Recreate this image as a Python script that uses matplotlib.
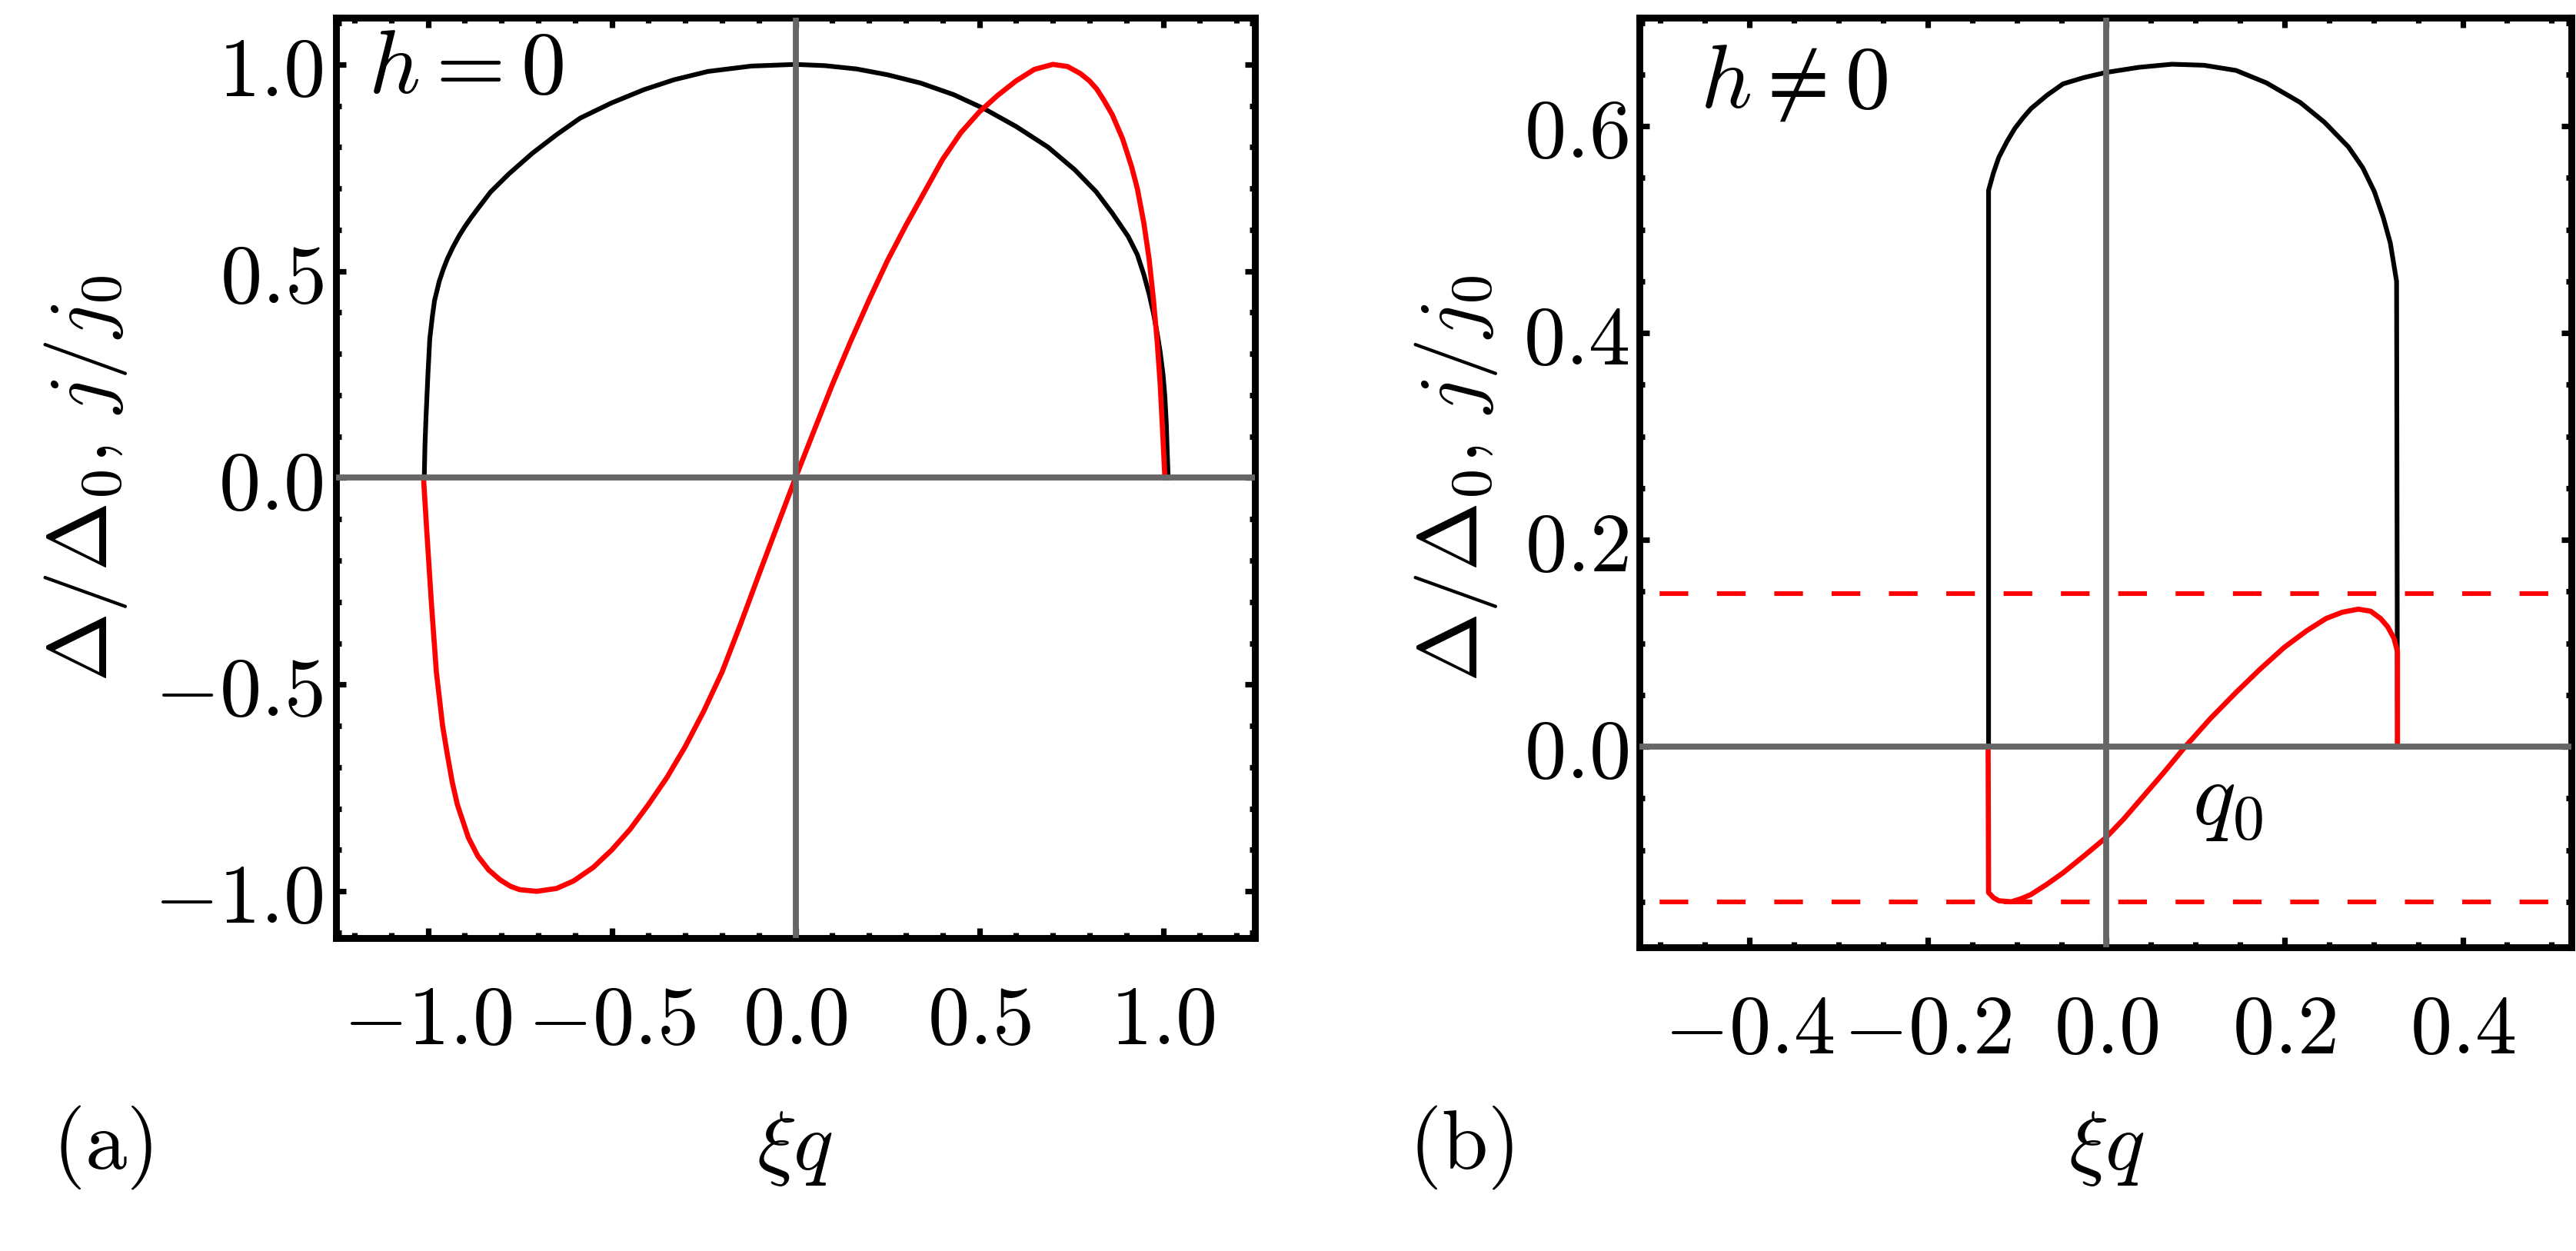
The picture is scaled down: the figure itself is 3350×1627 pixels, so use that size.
import matplotlib
matplotlib.use("Agg")
import matplotlib.pyplot as plt
from matplotlib.ticker import FixedLocator, MultipleLocator

plt.rcParams["mathtext.fontset"] = "cm"
plt.rcParams["font.family"] = "DejaVu Serif"

# panel (a), h = 0 : gap (black) and current (red)
qa_gap = [-1.010, -1.008, -1.005, -1.0, -0.995, -0.988, -0.982, -0.969, -0.958, -0.947,
          -0.932, -0.916, -0.9, -0.882, -0.855, -0.829, -0.78, -0.716, -0.65, -0.586,
          -0.5, -0.412, -0.33, -0.238, -0.12, 0.0, 0.08, 0.166, 0.25, 0.34, 0.43, 0.513,
          0.6, 0.687, 0.76, 0.818, 0.862, 0.905, 0.93, 0.948, 0.962, 0.974, 0.984, 0.992,
          1.0, 1.005, 1.009, 1.011, 1.014]
gap_a = [0.0, 0.08, 0.151, 0.25, 0.336, 0.39, 0.429, 0.476, 0.505, 0.530,
         0.558, 0.584, 0.607, 0.630, 0.662, 0.692, 0.735, 0.785, 0.83, 0.870,
         0.907, 0.939, 0.963, 0.983, 0.996, 1.0, 0.997, 0.989, 0.975, 0.955, 0.927, 0.893,
         0.850, 0.800, 0.745, 0.692, 0.64, 0.584, 0.54, 0.491, 0.445, 0.398, 0.35, 0.306,
         0.25, 0.197, 0.13, 0.074, 0.0]
qa_cur = [-1.012, -1.003, -0.990, -0.977, -0.960, -0.947, -0.934, -0.92, -0.89, -0.864,
          -0.835, -0.804, -0.775, -0.75, -0.704, -0.65, -0.604, -0.55, -0.5, -0.45, -0.4,
          -0.35, -0.3, -0.25, -0.2, -0.15, -0.1, -0.05, 0.0, 0.05, 0.1, 0.15, 0.2, 0.25,
          0.3, 0.35, 0.4, 0.45, 0.5, 0.55, 0.6, 0.65, 0.7, 0.74, 0.775, 0.8, 0.82, 0.84,
          0.862, 0.89, 0.914, 0.93, 0.948, 0.962, 0.974, 0.984, 0.992, 0.999, 1.005]
cur_a = [0.0, -0.13, -0.31, -0.47, -0.60, -0.67, -0.735, -0.79, -0.87, -0.915,
         -0.948, -0.972, -0.988, -0.996, -1.0, -0.993, -0.975, -0.942, -0.9, -0.85, -0.79,
         -0.725, -0.65, -0.565, -0.47, -0.355, -0.235, -0.117, 0.0, 0.113, 0.225, 0.33, 0.43,
         0.525, 0.61, 0.69, 0.77, 0.835, 0.885, 0.925, 0.96, 0.988, 1.0, 0.995, 0.978, 0.96,
         0.94, 0.912, 0.878, 0.82, 0.754, 0.70, 0.615, 0.53, 0.43, 0.33, 0.23, 0.11, 0.0]

# panel (b), h != 0
qb_gap = [-0.1315, -0.1315, -0.126, -0.120, -0.111, -0.102, -0.093, -0.084, -0.066, -0.048,
          -0.025, 0.0, 0.037, 0.074, 0.11, 0.146, 0.18, 0.218, 0.245, 0.272, 0.288, 0.301,
          0.311, 0.319, 0.326, 0.327]
gap_b = [0.0, 0.538, 0.555, 0.570, 0.585, 0.598, 0.608, 0.617, 0.630, 0.641,
         0.647, 0.652, 0.657, 0.660, 0.659, 0.654, 0.642, 0.623, 0.604, 0.580, 0.560, 0.537,
         0.512, 0.487, 0.450, 0.0]
qb_cur = [-0.132, -0.1315, -0.126, -0.120, -0.106, -0.095, -0.084, -0.066, -0.048, -0.025,
          0.0, 0.02, 0.039, 0.064, 0.089, 0.117, 0.146, 0.173, 0.2, 0.225, 0.247, 0.265,
          0.283, 0.297, 0.308, 0.316, 0.323, 0.327, 0.327]
cur_b = [0.0, -0.141, -0.146, -0.149, -0.150, -0.147, -0.143, -0.133, -0.122, -0.106,
         -0.088, -0.070, -0.051, -0.026, 0.0, 0.027, 0.0525, 0.075, 0.096, 0.112, 0.124, 0.130,
         0.133, 0.131, 0.124, 0.116, 0.105, 0.092, 0.0]
jc_b = [0.148, -0.150]
q0_b = 0.089

xt_a = [-1.0, -0.5, 0.0, 0.5, 1.0]
xl_a = ["$-1.0$", "$-0.5$", "$0.0$", "$0.5$", "$1.0$"]
yt_a = [-1.0, -0.5, 0.0, 0.5, 1.0]
yl_a = ["$-1.0$", "$-0.5$", "$0.0$", "$0.5$", "$1.0$"]
xt_b = [-0.4, -0.2, 0.0, 0.2, 0.4]
xl_b = ["$-0.4$", "$-0.2$", "$0.0$", "$0.2$", "$0.4$"]
yt_b = [0.0, 0.2, 0.4, 0.6]
yl_b = ["$0.0$", "$0.2$", "$0.4$", "$0.6$"]

W, H = 3350, 1627
DPI = 200
fig = plt.figure(figsize=(W / DPI, H / DPI), dpi=DPI)
fig.patch.set_facecolor("white")

def px(x0, y0, x1, y1):
    return [x0 / W, 1 - y1 / H, (x1 - x0) / W, (y1 - y0) / H]

ax1 = fig.add_axes(px(437, 23, 1632, 1220))
ax2 = fig.add_axes(px(2132, 23, 3344, 1232))

GRAY = "#666666"
FS = 39

def style(ax, xt, xl, yt, yl, xminor, yminor, xpad, ypad):
    ax.xaxis.set_major_locator(FixedLocator(xt))
    ax.set_xticklabels(xl, fontsize=FS)
    ax.yaxis.set_major_locator(FixedLocator(yt))
    ax.set_yticklabels(yl, fontsize=FS)
    ax.xaxis.set_minor_locator(MultipleLocator(xminor))
    ax.yaxis.set_minor_locator(MultipleLocator(yminor))
    ax.tick_params(which="both", direction="in", top=True, right=True, width=2.6, color="black")
    ax.tick_params(which="major", length=4.8)
    ax.tick_params(which="minor", length=2.5)
    ax.tick_params(axis="x", which="major", pad=xpad)
    ax.tick_params(axis="y", which="major", pad=ypad)
    for s in ax.spines.values():
        s.set_linewidth(3.2)
    ax.axhline(0, color=GRAY, lw=2.8, zorder=4)
    ax.axvline(0, color=GRAY, lw=2.8, zorder=4)

# (a)
ax1.plot(qa_gap, gap_a, color="black", lw=2.2, zorder=3)
ax1.plot(qa_cur, cur_a, color="red", lw=2.4, zorder=3)
ax1.set_xlim(-1.25, 1.25)
ax1.set_ylim(-1.113, 1.113)
style(ax1, xt_a, xl_a, yt_a, yl_a, 0.1, 0.1, 20, 6)
ax1.text(0.035, 0.945, r"$h=0$", transform=ax1.transAxes, fontsize=42, va="center", ha="left")

# (b)
for jc in jc_b:
    ax2.axhline(jc, color="red", lw=2.2, linestyle=(7.9, (6.1, 6.1)), zorder=2)
ax2.plot(qb_gap, gap_b, color="black", lw=2.2, zorder=3)
ax2.plot(qb_cur, cur_b, color="red", lw=2.4, zorder=3)
ax2.set_xlim(-0.523, 0.522)
ax2.set_ylim(-0.194, 0.705)
style(ax2, xt_b, xl_b, yt_b, yl_b, 0.05, 0.05, 20, 5)
ax2.text(0.065, 0.93, r"$h\neq0$", transform=ax2.transAxes, fontsize=42, va="center", ha="left")
ax2.text(q0_b + 0.008, -0.008, r"$q_0$", fontsize=42, va="top", ha="left", zorder=5)

# axis labels and panel tags
ylab = r"$\Delta/\Delta_0,\, j/j_0$"
fig.text(112 / W, 1 - 622 / H, ylab, rotation=90, fontsize=FS, ha="center", va="center")
fig.text(1893 / W, 1 - 622 / H, ylab, rotation=90, fontsize=FS, ha="center", va="center")
fig.text(1033 / W, 1 - 1492 / H, r"$\xi q$", fontsize=FS, ha="center", va="center")
fig.text(2739 / W, 1 - 1492 / H, r"$\xi q$", fontsize=FS, ha="center", va="center")
fig.text(133 / W, 1 - 1492 / H, r"$\mathrm{(a)}$", fontsize=FS, ha="center", va="center")
fig.text(1900 / W, 1 - 1492 / H, r"$\mathrm{(b)}$", fontsize=FS, ha="center", va="center")

fig.savefig("out.png", dpi=DPI, facecolor="white")
